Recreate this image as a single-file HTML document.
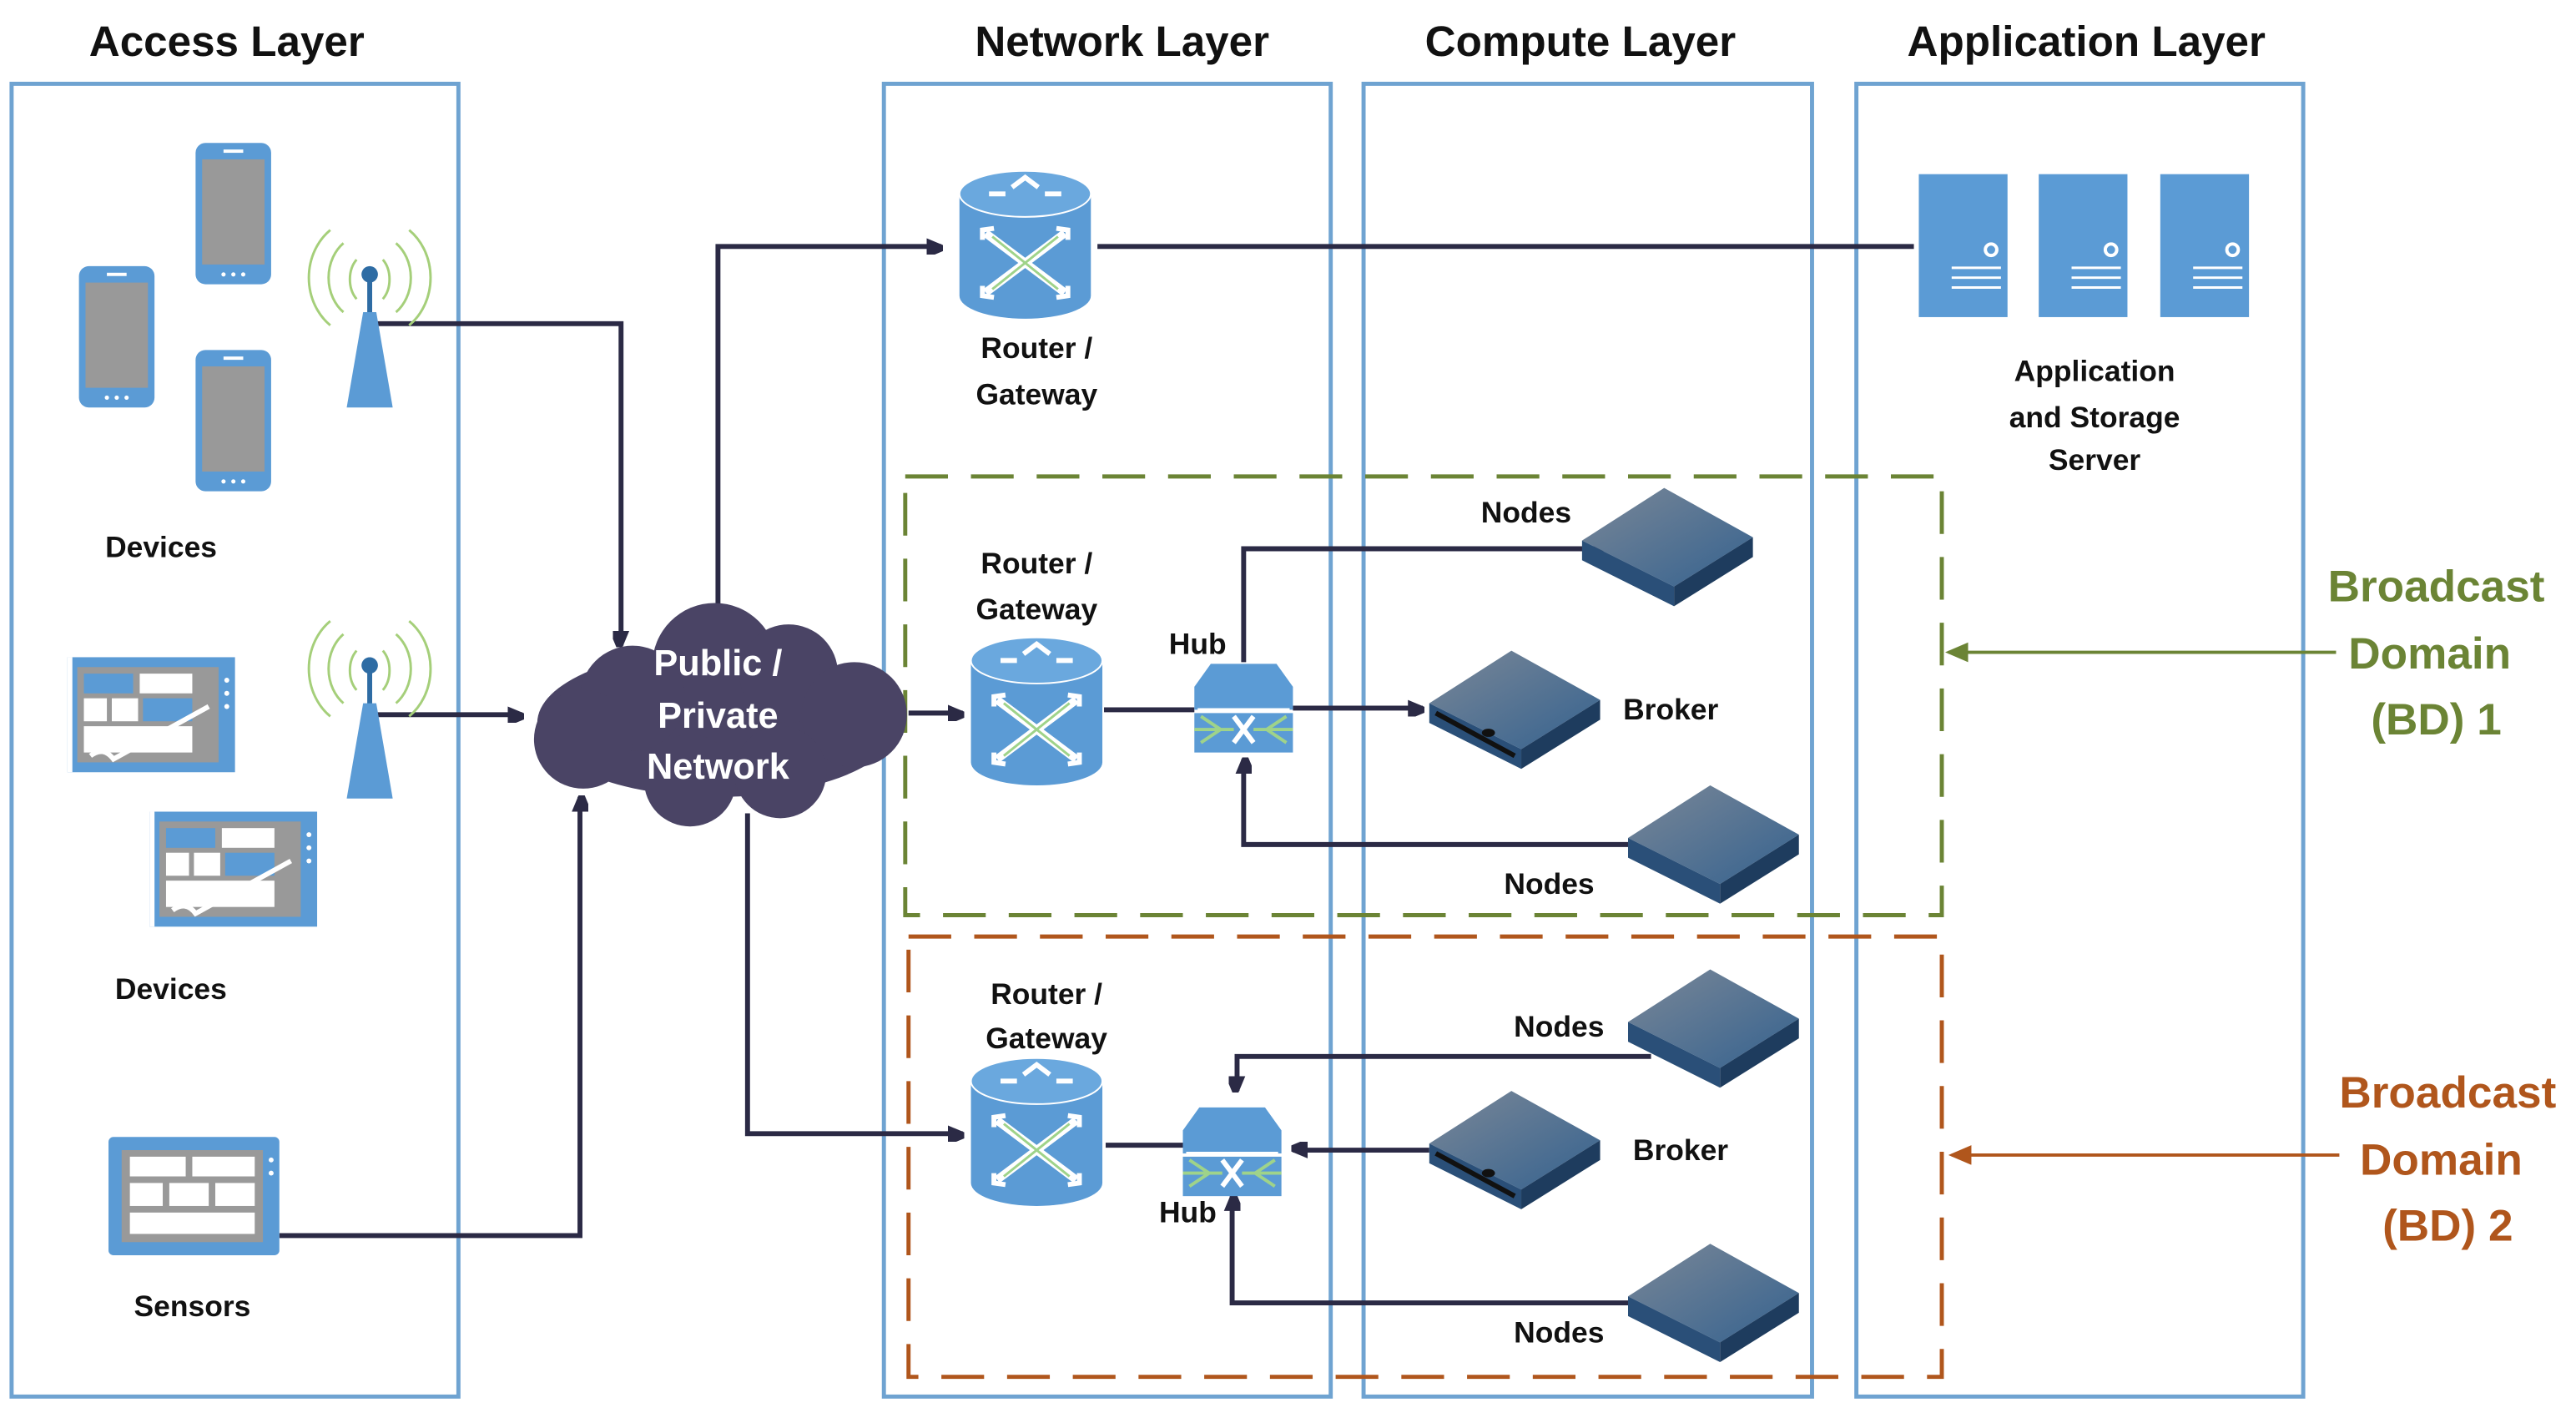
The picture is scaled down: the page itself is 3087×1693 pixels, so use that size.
<!DOCTYPE html>
<html><head><meta charset="utf-8"><style>
html,body{margin:0;padding:0;background:#fff}
svg{display:block}
text{font-family:"Liberation Sans",sans-serif;font-weight:bold}
</style></head><body>
<svg width="3087" height="1693" viewBox="0 0 1568 860" xmlns="http://www.w3.org/2000/svg">
<defs>
<marker id="ah" markerWidth="10" markerHeight="10" refX="9" refY="5" orient="auto" markerUnits="userSpaceOnUse"><path d="M0,0 L12,5 L0,10 z" transform="scale(1.2)" fill="#2b2a45"/></marker>
<marker id="ag" markerWidth="14" markerHeight="12" refX="12" refY="6" orient="auto" markerUnits="userSpaceOnUse"><path d="M0,0 L14,6 L0,12 z" fill="#6b8435"/></marker>
<marker id="ao" markerWidth="14" markerHeight="12" refX="12" refY="6" orient="auto" markerUnits="userSpaceOnUse"><path d="M0,0 L14,6 L0,12 z" fill="#b0561c"/></marker>
<linearGradient id="slab" x1="0" y1="0" x2="1" y2="1"><stop offset="0" stop-color="#7a8797"/><stop offset="1" stop-color="#35628f"/></linearGradient>
<g id="router">
<path d="M-40,-32 v62 a40,14 0 0 0 80,0 v-62 a40,14 0 0 0 -80,0 z" fill="#5b9bd5"/>
<ellipse cx="0" cy="-32" rx="40" ry="14" fill="#6aa8de" stroke="#fff" stroke-width="1"/>
<path d="M-8,-36 l8,-6 l8,6 M-22,-32 h10 M12,-32 h10" stroke="#fff" stroke-width="3" fill="none"/>
<path d="M-24,-8 L24,28 M24,-8 L-24,28" stroke="#fff" stroke-width="5"/>
<path d="M-26,-4 l0,-6 l7,-1 M26,-4 l0,-6 l-7,-1 M-26,24 l0,6 l7,1 M26,24 l0,6 l-7,1" stroke="#fff" stroke-width="3" fill="none"/>
<path d="M-20,-6 L20,26 M20,-6 L-20,26" stroke="#9fd38a" stroke-width="1.5"/>
</g>
<g id="hub">
<path d="M-20,-28 h40 l10,14 v14 h-60 v-14 z" fill="#5b9bd5"/>
<rect x="-30" y="2" width="60" height="24" fill="#5b9bd5"/>
<path d="M-28,0 h56" stroke="#fff" stroke-width="2"/>
<path d="M-26,4 l12,8 l-12,8 M26,4 l-12,8 l12,8 M-30,12 h24 M30,12 h-24" stroke="#9fd38a" stroke-width="2" fill="none"/>
<path d="M-6,4 l12,16 M6,4 l-12,16" stroke="#fff" stroke-width="3"/>
</g>
<g id="slabg">
<polygon points="-52,-4 -2,-36 52,-6 4,24" fill="url(#slab)"/>
<polygon points="-52,-4 4,24 4,36 -52,8" fill="#2a4f78"/>
<polygon points="4,24 52,-6 52,6 4,36" fill="#1e3c5e"/>
</g>
<g id="broker">
<use href="#slabg"/>
<ellipse cx="-16" cy="14" rx="4" ry="2.5" fill="#111"/>
<path d="M-48,2 L0,28" stroke="#111" stroke-width="3"/>
</g>
<g id="phone">
<rect x="0" y="0" width="46" height="86" rx="6" fill="#5b9bd5"/>
<rect x="4" y="10" width="38" height="64" fill="#999"/>
<rect x="17" y="4" width="12" height="2" fill="#fff"/>
<circle cx="17" cy="80" r="1.3" fill="#fff"/><circle cx="23" cy="80" r="1.3" fill="#fff"/><circle cx="29" cy="80" r="1.3" fill="#fff"/>
</g>
<g id="antenna">
<path d="M-8,-14 a12,16 0 0 0 0,24 M8,-14 a12,16 0 0 1 0,24 M-16,-24 a22,26 0 0 0 0,42 M16,-24 a22,26 0 0 1 0,42 M-24,-32 a32,36 0 0 0 0,58 M24,-32 a32,36 0 0 1 0,58" stroke="#a5cf7a" stroke-width="1.5" fill="none"/>
<circle cx="0" cy="-5" r="5" fill="#2e6ca4"/>
<rect x="-1.5" y="-3" width="3" height="22" fill="#2e6ca4"/>
<polygon points="-4,18 4,18 14,76 -14,76" fill="#5b9bd5"/>
</g>
<g id="tablet">
<rect x="0" y="0" width="102" height="70" fill="#5b9bd5"/>
<rect x="0" y="0" width="3" height="70" fill="#fff"/>
<rect x="6" y="6" width="86" height="58" fill="#999"/>
<rect x="10" y="10" width="30" height="12" fill="#5b9bd5"/><rect x="44" y="10" width="32" height="12" fill="#fff"/>
<rect x="10" y="25" width="14" height="14" fill="#fff"/><rect x="27" y="25" width="16" height="14" fill="#fff"/><rect x="46" y="25" width="30" height="14" fill="#5b9bd5"/>
<rect x="10" y="42" width="66" height="16" fill="#fff"/>
<path d="M14,60 q8,-6 14,2 L86,30" stroke="#fff" stroke-width="3" fill="none"/>
<circle cx="97" cy="14" r="1.5" fill="#fff"/><circle cx="97" cy="22" r="1.5" fill="#fff"/><circle cx="97" cy="30" r="1.5" fill="#fff"/>
</g>
<g id="server">
<rect x="0" y="0" width="54" height="87" fill="#5b9bd5"/>
<circle cx="44" cy="46" r="3.5" fill="none" stroke="#fff" stroke-width="2"/>
<path d="M20,57 h30 M20,63 h30 M20,69 h30" stroke="#fff" stroke-width="1.5"/>
</g>
</defs>

<g fill="none" stroke="#6fa3d1" stroke-width="2.5">
<rect x="7" y="51" width="272" height="799"/>
<rect x="538" y="51" width="272" height="799"/>
<rect x="830" y="51" width="273" height="799"/>
<rect x="1130" y="51" width="272" height="799"/>
</g>
<g font-size="26" fill="#111" text-anchor="middle">
<text x="138" y="34">Access Layer</text>
<text x="683" y="34">Network Layer</text>
<text x="962" y="34">Compute Layer</text>
<text x="1270" y="34">Application Layer</text>
</g>

<rect x="551" y="290" width="631" height="267" fill="none" stroke="#6b8435" stroke-width="2.5" stroke-dasharray="26,14"/>
<rect x="553" y="570" width="629" height="268" fill="none" stroke="#b0561c" stroke-width="2.5" stroke-dasharray="26,14"/>

<g stroke="#2b2a45" stroke-width="3" fill="none">
<path d="M225,197 H378 V393" marker-end="url(#ah)"/>
<path d="M228,435 H318" marker-end="url(#ah)"/>
<path d="M170,752 H353 V485" marker-end="url(#ah)"/>
<path d="M437,370 V150 H573" marker-end="url(#ah)"/>
<path d="M668,150 H1165"/>
<path d="M553,434 H586" marker-end="url(#ah)"/>
<path d="M455,495 V690 H586" marker-end="url(#ah)"/>
<path d="M672,432 H727"/>
<path d="M787,431 H866" marker-end="url(#ah)"/>
<path d="M757,403 V334 H1015"/>
<path d="M992,514 H757 V462" marker-end="url(#ah)"/>
<path d="M1005,643 H753 V664" marker-end="url(#ah)"/>
<path d="M870,700 H787" marker-end="url(#ah)"/>
<path d="M992,793 H750 V728" marker-end="url(#ah)"/>
<path d="M673,697 H720"/>
</g>

<g fill="#4a4465">
<ellipse cx="437" cy="440" rx="110" ry="45"/>
<circle cx="435" cy="405" r="38"/>
<circle cx="480" cy="410" r="30"/>
<circle cx="385" cy="425" r="32"/>
<circle cx="355" cy="450" r="30"/>
<circle cx="520" cy="435" r="32"/>
<circle cx="420" cy="475" r="28"/>
<circle cx="475" cy="470" r="28"/>
</g>
<g font-size="22" fill="#fff" text-anchor="middle">
<text x="437" y="411">Public /</text>
<text x="437" y="443">Private</text>
<text x="437" y="474">Network</text>
</g>

<use href="#phone" x="119" y="87"/>
<use href="#phone" x="48" y="162"/>
<use href="#phone" x="119" y="213"/>
<use href="#antenna" x="225" y="172"/>
<use href="#antenna" x="225" y="410"/>
<use href="#tablet" x="41" y="400"/>
<use href="#tablet" x="91" y="494"/>
<g transform="translate(66,692)">
<rect width="104" height="72" rx="3" fill="#5b9bd5"/>
<rect x="8" y="8" width="86" height="56" fill="#999"/>
<rect x="13" y="12" width="34" height="12" fill="#fff"/><rect x="51" y="12" width="38" height="12" fill="#fff"/>
<rect x="13" y="28" width="20" height="14" fill="#fff"/><rect x="37" y="28" width="24" height="14" fill="#fff"/><rect x="65" y="28" width="24" height="14" fill="#fff"/>
<rect x="13" y="46" width="76" height="13" fill="#fff"/>
<circle cx="99" cy="14" r="1.5" fill="#fff"/><circle cx="99" cy="22" r="1.5" fill="#fff"/>
</g>

<use href="#router" x="624" y="150"/>
<use href="#router" x="631" y="434"/>
<use href="#router" x="631" y="690"/>
<use href="#hub" x="757" y="432"/>
<use href="#hub" x="750" y="702"/>
<use href="#slabg" x="1015" y="333"/>
<use href="#broker" x="922" y="432"/>
<use href="#slabg" x="1043" y="514"/>
<use href="#slabg" x="1043" y="626"/>
<use href="#broker" x="922" y="700"/>
<use href="#slabg" x="1043" y="793"/>
<use href="#server" x="1168" y="106"/>
<use href="#server" x="1241" y="106"/>
<use href="#server" x="1315" y="106"/>

<g font-size="18" fill="#111" text-anchor="middle">
<text x="98" y="339">Devices</text>
<text x="104" y="608">Devices</text>
<text x="117" y="801">Sensors</text>
<text x="631" y="218">Router /</text><text x="631" y="246">Gateway</text>
<text x="631" y="349">Router /</text><text x="631" y="377">Gateway</text>
<text x="637" y="611">Router /</text><text x="637" y="638">Gateway</text>
<text x="729" y="398">Hub</text>
<text x="723" y="744">Hub</text>
<text x="929" y="318">Nodes</text>
<text x="1017" y="438">Broker</text>
<text x="943" y="544">Nodes</text>
<text x="949" y="631">Nodes</text>
<text x="1023" y="706">Broker</text>
<text x="949" y="817">Nodes</text>
<text x="1275" y="232">Application</text>
<text x="1275" y="260">and Storage</text>
<text x="1275" y="286">Server</text>
</g>

<path d="M1422,397 H1186" stroke="#6b8435" stroke-width="2" marker-end="url(#ag)"/>
<path d="M1424,703 H1188" stroke="#b0561c" stroke-width="2" marker-end="url(#ao)"/>
<g font-size="27" text-anchor="middle" fill="#6b8435">
<text x="1483" y="366">Broadcast</text>
<text x="1479" y="407">Domain</text>
<text x="1483" y="447">(BD) 1</text>
</g>
<g font-size="27" text-anchor="middle" fill="#b0561c">
<text x="1490" y="674">Broadcast</text>
<text x="1486" y="715">Domain</text>
<text x="1490" y="755">(BD) 2</text>
</g>
</svg>
</body></html>
